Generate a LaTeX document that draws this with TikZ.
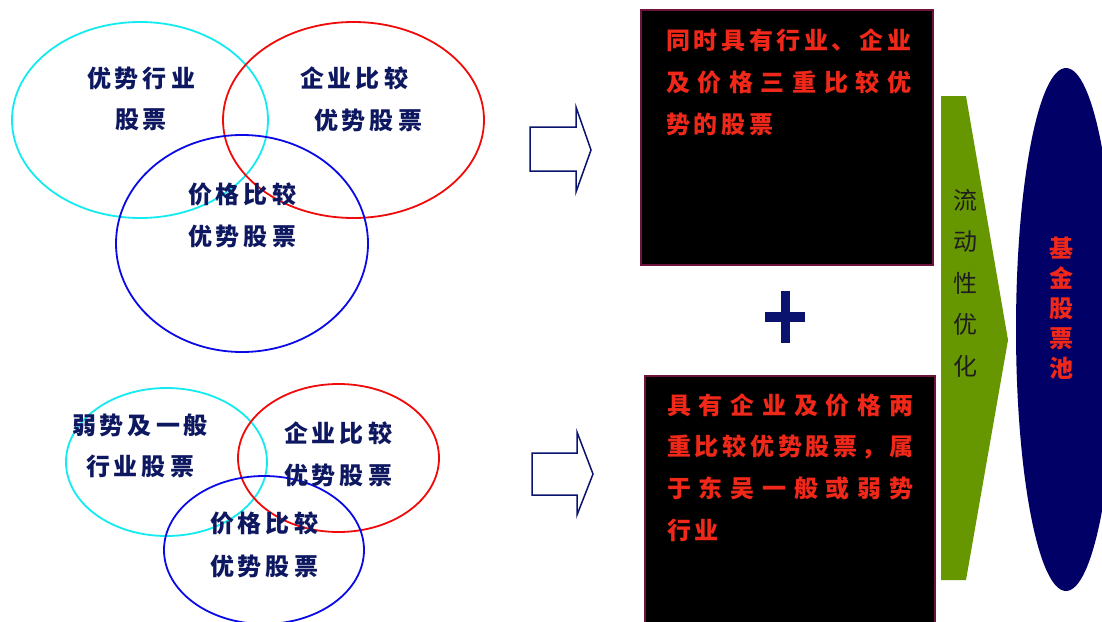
\documentclass[tikz,border=0pt]{standalone}
\usepackage{fontspec}
\newfontfamily\cjk{Noto Sans CJK SC}
\definecolor{navyT}{RGB}{14,24,96}
\definecolor{cyanE}{RGB}{20,235,240}
\definecolor{redE}{RGB}{240,10,10}
\definecolor{blueE}{RGB}{10,10,230}
\definecolor{arrowN}{RGB}{10,20,110}
\definecolor{boxB}{RGB}{110,20,60}
\definecolor{redT}{RGB}{240,40,25}
\definecolor{greenA}{RGB}{102,150,0}
\definecolor{poolN}{RGB}{0,0,102}
\definecolor{grayT}{RGB}{30,30,30}
\ExplSyntaxOn
\NewDocumentCommand\ks{O{4pt}m}{\tl_map_inline:nn{#2}{##1\kern#1\relax}\unkern}
\NewDocumentCommand\spr{mm}{\hbox to #1{\tl_map_inline:nn{#2}{##1\hfil}\unskip}}
\ExplSyntaxOff
\tikzset{
  navytxt/.style={font=\cjk\bfseries\fontsize{24}{24}\selectfont, text=navyT, inner sep=0pt},
  redtxt/.style={font=\cjk\bfseries\fontsize{24}{24}\selectfont, text=redT, inner sep=0pt, anchor=west},
  venn/.style={line width=1.8pt},
  hollow/.style={draw=arrowN, line width=1.5pt, fill=white, line join=miter},
  blackbox/.style={draw=boxB, fill=black, line width=1.5pt}
}
\begin{document}
\begin{tikzpicture}[x=1pt,y=-1pt]
\useasboundingbox (0,0) rectangle (1102,621);
\fill[white] (0,0) rectangle (1102,621);
% top venn
\draw[venn, cyanE] (140,120) ellipse [x radius=128pt, y radius=98pt];
\draw[venn, redE] (353.5,120) ellipse [x radius=130.5pt, y radius=98pt];
\draw[venn, blueE] (242,243.5) ellipse [x radius=126pt, y radius=108.5pt];
\node[navytxt] (t1a) at (141,78) {\ks{优势行业}};
\node[navytxt] (t1b) at (141,120) {\ks{股票}};
\node[navytxt] (t2a) at (354,78) {\ks{企业比较}};
\node[navytxt] (t2b) at (368,120) {\ks{优势股票}};
\node[navytxt] (t3a) at (242,194) {\ks{价格比较}};
\node[navytxt] (t3b) at (242,236) {\ks{优势股票}};
% bottom venn
\draw[venn, cyanE] (166.5,462) ellipse [x radius=100.5pt, y radius=74pt];
\draw[venn, redE] (338.5,458) ellipse [x radius=100.5pt, y radius=74pt];
\draw[venn, blueE] (264,550) ellipse [x radius=100pt, y radius=74pt];
\node[navytxt] (b1a) at (140,425) {\ks{弱势及一般}};
\node[navytxt] (b1b) at (140,466) {\ks{行业股票}};
\node[navytxt] (b2a) at (338,433) {\ks{企业比较}};
\node[navytxt] (b2b) at (338,475) {\ks{优势股票}};
\node[navytxt] (b3a) at (264,523) {\ks{价格比较}};
\node[navytxt] (b3b) at (264,566) {\ks{优势股票}};
% hollow arrows
\draw[hollow] (530,127) -- (576,127) -- (576,107) -- (591,150) -- (576,192) -- (576,171) -- (530,171) -- cycle;
\draw[hollow] (532,453) -- (577,453) -- (577,432) -- (593,474) -- (577,515) -- (577,495) -- (532,495) -- cycle;
% black boxes
\draw[blackbox] (641,10) rectangle (933,265);
\draw[blackbox] (645,376) rectangle (935,640);
\node[redtxt] (r1) at (666,40) {\spr{245pt}{同时具有行业、企业}};
\node[redtxt] (r2) at (666,82) {\spr{245pt}{及价格三重比较优}};
\node[redtxt] (r3) at (666,124) {\ks[3.6pt]{势的股票}};
\node[redtxt] (s1) at (667,405) {\spr{246pt}{具有企业及价格两}};
\node[redtxt] (s2) at (667,447) {\spr{246pt}{重比较优势股票，属}};
\node[redtxt] (s3) at (667,488) {\spr{246pt}{于东吴一般或弱势}};
\node[redtxt] (s4) at (667,530) {\ks[3.6pt]{行业}};
% plus
\fill[arrowN] (765,312) rectangle (805,321.5);
\fill[arrowN] (780.5,291) rectangle (789.5,343);
% green chevron
\fill[greenA] (941,96) -- (966,96) -- (1008,340) -- (966,580) -- (941,580) -- cycle;
\node[font=\cjk\fontsize{24}{41.5}\selectfont, text=grayT, align=center, inner sep=0pt] (liq) at (965,283) {流\\动\\性\\优\\化};
% pool
\fill[poolN] (1066,329.5) ellipse [x radius=50pt, y radius=261.5pt];
\node[font=\cjk\bfseries\fontsize{24}{30}\selectfont, text=redT, align=center, inner sep=0pt] (pool) at (1061,308) {基\\金\\股\\票\\池};
\end{tikzpicture}
\end{document}
